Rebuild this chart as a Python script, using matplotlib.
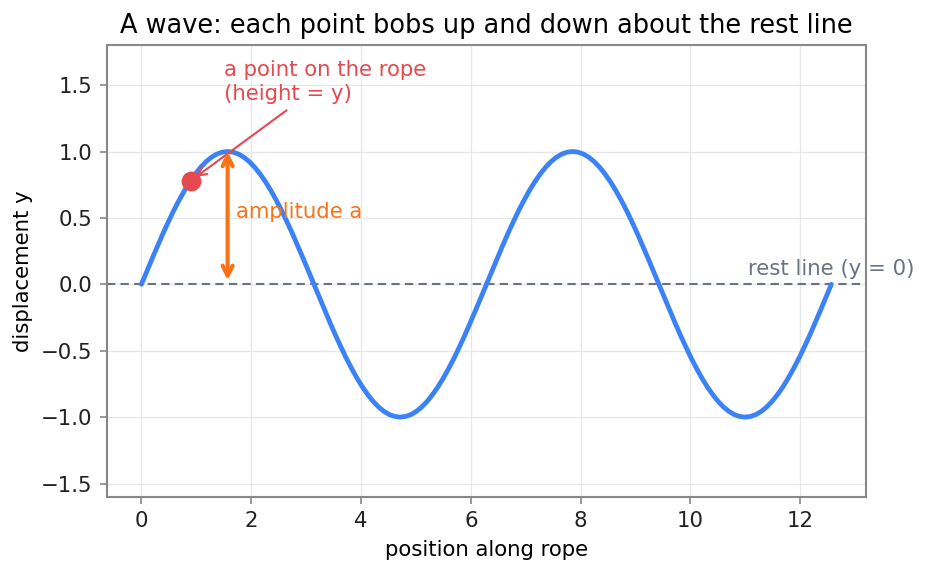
import numpy as np
import matplotlib
matplotlib.use("Agg")
import matplotlib.pyplot as plt

wave_y = [
    0.0, 0.098, 0.195, 0.290, 0.383, 0.471, 0.556, 0.634, 0.707, 0.773, 0.831,
    0.882, 0.924, 0.957, 0.981, 0.995, 1.0, 0.995, 0.981, 0.957, 0.924, 0.882,
    0.831, 0.773, 0.707, 0.634, 0.556, 0.471, 0.383, 0.290, 0.195, 0.098, 0.0,
    -0.098, -0.195, -0.290, -0.383, -0.471, -0.556, -0.634, -0.707, -0.773, -0.831,
    -0.882, -0.924, -0.957, -0.981, -0.995, -1.0, -0.995, -0.981, -0.957, -0.924, -0.882,
    -0.831, -0.773, -0.707, -0.634, -0.556, -0.471, -0.383, -0.290, -0.195, -0.098, 0.0,
    0.098, 0.195, 0.290, 0.383, 0.471, 0.556, 0.634, 0.707, 0.773, 0.831,
    0.882, 0.924, 0.957, 0.981, 0.995, 1.0, 0.995, 0.981, 0.957, 0.924, 0.882,
    0.831, 0.773, 0.707, 0.634, 0.556, 0.471, 0.383, 0.290, 0.195, 0.098, 0.0,
    -0.098, -0.195, -0.290, -0.383, -0.471, -0.556, -0.634, -0.707, -0.773, -0.831,
    -0.882, -0.924, -0.957, -0.981, -0.995, -1.0, -0.995, -0.981, -0.957, -0.924, -0.882,
    -0.831, -0.773, -0.707, -0.634, -0.556, -0.471, -0.383, -0.290, -0.195, -0.098, 0.0,
]
rope_end = 12.566
wave_x = np.linspace(0, rope_end, len(wave_y))

point_x, point_y = 0.9, 0.78
amp_x, amp_lo, amp_hi = 1.57, 0.03, 1.0
rest_y = 0.0

blue = "#3b82f6"
red = "#e5484d"
orange = "#f97316"
gray = "#6b7280"
fs = 10.2

fig, ax = plt.subplots(figsize=(6.2, 3.82), dpi=150)
fig.subplots_adjust(left=0.115, right=0.931, top=0.921, bottom=0.133)

ax.plot(wave_x, wave_y, color=blue, lw=2.3, zorder=3,
        solid_joinstyle="round", solid_capstyle="round")
ax.axhline(rest_y, color=gray, lw=1.0, ls=(0, (4, 2.5)), zorder=2)
ax.text(11.05, rest_y + 0.04, "rest line (y = 0)", color=gray, fontsize=fs,
        ha="left", va="bottom")

ax.plot([point_x], [point_y], "o", color=red, ms=8.5, zorder=5)
ax.annotate("a point on the rope\n(height = y)", xy=(point_x, point_y),
            xytext=(1.5, 1.36), color=red, fontsize=fs, ha="left", va="bottom",
            arrowprops=dict(arrowstyle="->", color=red, lw=1.0, shrinkA=2, shrinkB=3))

ax.annotate("", xy=(amp_x, amp_hi), xytext=(amp_x, amp_lo),
            arrowprops=dict(arrowstyle="<->", color=orange, lw=2.0,
                            mutation_scale=12, shrinkA=0, shrinkB=0))
ax.text(1.72, 0.545, "amplitude a", color=orange, fontsize=fs, va="center")

ax.set_ylim(-1.6, 1.8)
ax.set_xticks([0, 2, 4, 6, 8, 10, 12])
ax.set_yticks([-1.5, -1.0, -0.5, 0.0, 0.5, 1.0, 1.5])
ax.grid(True, color="#e5e7eb", lw=0.6)
ax.set_axisbelow(True)
for s in ax.spines.values():
    s.set_color("#888888")
    s.set_linewidth(1.0)
ax.tick_params(colors="#888888", labelcolor="#222222", labelsize=fs, length=3.5)

ax.set_xlabel("position along rope", fontsize=fs)
ax.set_ylabel("displacement y", fontsize=fs)
ax.set_title("A wave: each point bobs up and down about the rest line", fontsize=12.3)

fig.savefig("out.png", dpi=150)
